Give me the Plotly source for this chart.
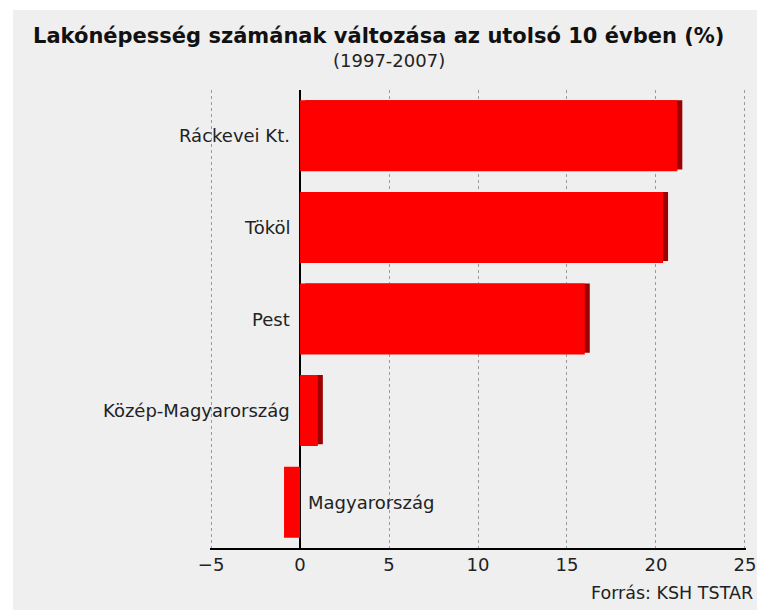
import plotly.graph_objects as go

categories = ["Ráckevei Kt.", "Tököl", "Pest", "Közép-Magyarország", "Magyarország"]
values = [21.2, 20.4, 16.0, 1.0, -0.9]
tick_vals = [-5, 0, 5, 10, 15, 20, 25]
tick_text = ["−5", "0", "5", "10", "15", "20", "25"]

title = "Lakónépesség számának változása az utolsó 10 évben (%)"
subtitle = "(1997-2007)"
source = "Forrás: KSH TSTAR"

FONT = "DejaVu Sans"
BG = "#efefef"
TXT = "#222222"

W, H = 757, 610
L, R, T, B = 210, 11, 90, 62
pw = W - L - R
ph = H - T - B
xmin, xmax = -5.06, 25.06
depth = 5 * (xmax - xmin) / pw  # 3D side depth, 5 px expressed in axis units

fig = go.Figure()

shadow_colors = ["#9c0000" if v > 0 else "rgba(0,0,0,0)" for v in values]
fig.add_trace(go.Bar(
    y=categories, x=values, orientation="h", xaxis="x", yaxis="y",
    marker=dict(color=shadow_colors, line=dict(width=0)),
    width=0.755, offset=-0.3875, hoverinfo="skip", showlegend=False,
))
fig.add_trace(go.Bar(
    y=categories, x=values, orientation="h", xaxis="x2", yaxis="y",
    marker=dict(color="#ff0000", line=dict(width=0)),
    width=0.775, offset=-0.3875, showlegend=False,
))

annotations = []
for c, v in zip(categories, values):
    annotations.append(dict(
        x=0, y=c, xref="x2", yref="y", text=c, showarrow=False,
        xanchor="right" if v >= 0 else "left", xshift=-8 if v >= 0 else 6,
        font=dict(family=FONT, size=18, color=TXT),
    ))

annotations += [
    dict(x=(378 - L) / pw, y=1, xref="paper", yref="paper", yanchor="middle",
         xanchor="center", text="<b>" + title + "</b>", showarrow=False, yshift=54,
         font=dict(family=FONT, size=21, color="#111111")),
    dict(x=(389 - L) / pw, y=1, xref="paper", yref="paper", yanchor="middle",
         xanchor="center", text=subtitle, showarrow=False, yshift=30,
         font=dict(family=FONT, size=18, color=TXT)),
    dict(x=1, y=0, xref="paper", yref="paper", yanchor="middle", xanchor="right",
         text=source, showarrow=False, yshift=-45, xshift=9,
         font=dict(family=FONT, size=17.5, color=TXT)),
]

shapes = [dict(type="rect", xref="paper", yref="paper", layer="below",
               x0=(13 - L) / pw, x1=(W - L) / pw, y0=-B / ph, y1=(H - B - 10) / ph,
               fillcolor=BG, line=dict(width=0))]

fig.update_layout(
    width=W, height=H, autosize=False,
    margin=dict(l=L, r=R, t=T, b=B, autoexpand=False),
    paper_bgcolor="white", plot_bgcolor="rgba(0,0,0,0)",
    barmode="overlay",
    xaxis=dict(range=[xmin - depth, xmax - depth], visible=False, fixedrange=True,
               automargin=False),
    xaxis2=dict(range=[xmin, xmax], anchor="y", automargin=False,
                tickvals=tick_vals, ticktext=tick_text, ticklabeloverflow="allow",
                showgrid=True, gridcolor="#9a9a9a", griddash="dot", gridwidth=1,
                zeroline=True, zerolinecolor="#000000", zerolinewidth=1.5,
                showline=True, linecolor="#000000", linewidth=1.5,
                ticks="", tickfont=dict(family=FONT, size=18, color=TXT)),
    yaxis=dict(anchor="x2", categoryorder="array", categoryarray=categories,
               autorange="reversed", showticklabels=False, showgrid=False,
               zeroline=False, showline=False, ticks="", automargin=False),
    showlegend=False,
    annotations=annotations,
    shapes=shapes,
)

fig.write_html(
    "out.html",
    config={"responsive": False, "displayModeBar": False},
    post_script="document.body.style.margin='0';document.body.style.overflow='hidden';",
)
